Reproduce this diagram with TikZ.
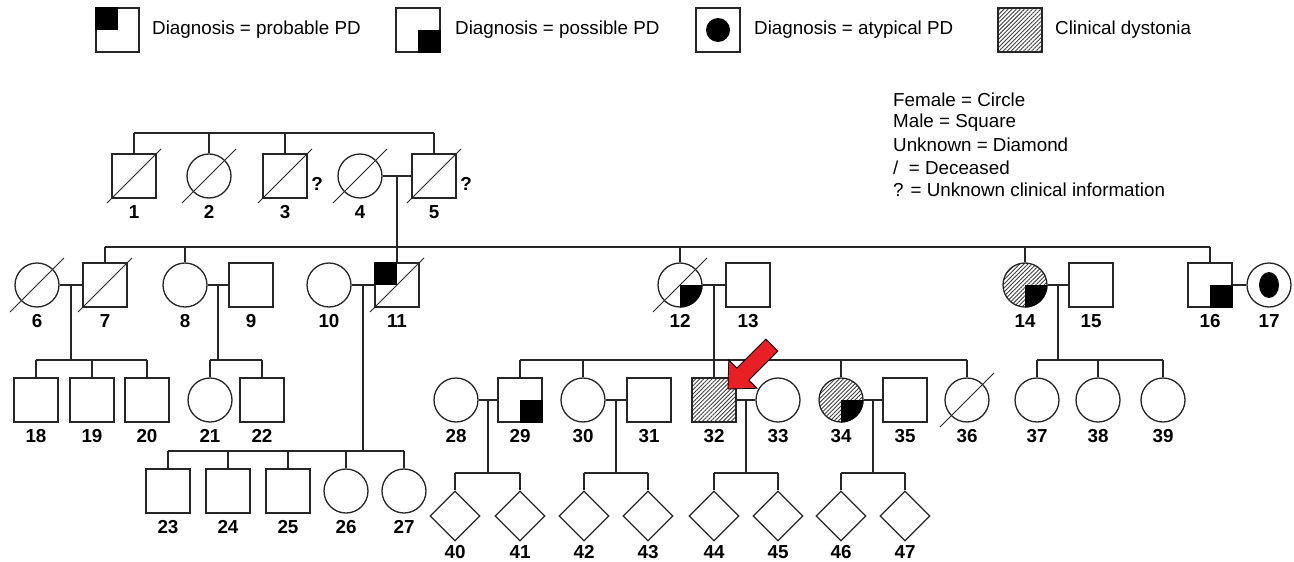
\documentclass[tikz,border=0pt]{standalone}
\usepackage{fontspec}
\setmainfont{Liberation Sans}
\usetikzlibrary{shapes.geometric,patterns.meta,calc}
\newcommand{\pdDead}[1]{\draw[slash] ($(#1.center)+(-27,27)$) -- ($(#1.center)+(27,-27)$);}
\newcommand{\pdSqBR}[1]{\fill[black] (#1.center) rectangle (#1.south east);}
\newcommand{\pdSqTL}[1]{\fill[black] (#1.north west) rectangle (#1.center);}
\newcommand{\pdCiBR}[1]{\begin{scope}\clip (#1.center) circle[radius=22.6];\fill[black] (#1.center) rectangle ++(24,24);\end{scope}}
\begin{document}
\begin{tikzpicture}[x=1pt,y=-1pt,
  ln/.style={draw=black!85, line width=1.3pt},
  male/.style={ln, rectangle, minimum size=44pt, inner sep=0pt},
  female/.style={ln, circle, minimum size=44pt, inner sep=0pt},
  unk/.style={ln, diamond, minimum width=50pt, minimum height=50pt, inner sep=0pt},
  hatch/.style={pattern={Lines[angle=45,distance=2.9pt,line width=0.9pt]}, pattern color=black!75},
  num/.style={font=\fontsize{18.8}{20}\selectfont\bfseries, inner sep=0pt},
  txt/.style={font=\fontsize{18.8}{20}\selectfont, inner sep=0pt, anchor=west},
  conn/.style={draw=black!85, line width=1.4pt},
  slash/.style={draw=black!85, line width=1pt},
]
\useasboundingbox[fill=white] (0,0) rectangle (1294,562);

% ---------- legend top ----------
\node[male, minimum width=43pt] (lg1) at (117.5,30) {};
\pdSqTL{lg1}
\node[txt] (lt1) at (152,30) {Diagnosis = probable PD};
\node[male] (lg2) at (418,30) {};
\pdSqBR{lg2}
\node[txt] (lt2) at (455,30) {Diagnosis = possible PD};
\node[male] (lg3) at (718,30) {};
\fill[black] (lg3.center) circle[radius=12];
\node[txt] (lt3) at (754,30) {Diagnosis = atypical PD};
\node[male, hatch] (lg4) at (1020,30) {};
\node[txt] (lt4) at (1055,30) {Clinical dystonia};

% ---------- legend right ----------
\node[txt] (r1) at (893,100) {Female = Circle};
\node[txt] (r2) at (893,122.5) {Male = Square};
\node[txt] (r3) at (893,145) {Unknown = Diamond};
\node[txt] (r4) at (893,167.5) {/\ \ = Deceased};
\node[txt] (r5) at (893,190) {? = Unknown clinical information};

% ---------- generation I ----------
\node[male] (n1) at (134,176) {};
\node[female] (n2) at (209,176) {};
\node[male] (n3) at (285,176) {};
\node[female] (n4) at (360,176) {};
\node[male] (n5) at (434,176) {};
\foreach \n in {n1,n2,n3,n4,n5}{\pdDead{\n}}
\node[num] (q3) at (317,184) {?};
\node[num] (q5) at (466,184) {?};

% ---------- generation II ----------
\node[female] (n6) at (37,285) {};
\node[male] (n7) at (105,285) {};
\node[female] (n8) at (185,285) {};
\node[male] (n9) at (251,285) {};
\node[female] (n10) at (329,285) {};
\node[male] (n11) at (397,285) {};
\node[female] (n12) at (680,285) {};
\node[male] (n13) at (748,285) {};
\node[female, hatch] (n14) at (1025,285) {};
\node[male] (n15) at (1091,285) {};
\node[male] (n16) at (1210,285) {};
\node[female] (n17) at (1269,285) {};
\pdSqTL{n11}
\pdCiBR{n12}
\pdCiBR{n14}
\pdSqBR{n16}
\fill[black] (n17.center) ellipse[x radius=10, y radius=13];
\foreach \n in {n6,n7,n11,n12}{\pdDead{\n}}

% ---------- generation III ----------
\node[male] (n18) at (36,400) {};
\node[male] (n19) at (92,400) {};
\node[male] (n20) at (147,400) {};
\node[female] (n21) at (210,400) {};
\node[male] (n22) at (262,400) {};
\node[female] (n28) at (456,400) {};
\node[male] (n29) at (520,400) {};
\node[female] (n30) at (583,400) {};
\node[male] (n31) at (649,400) {};
\node[male, hatch] (n32) at (714,400) {};
\node[female] (n33) at (778,400) {};
\node[female, hatch] (n34) at (841,400) {};
\node[male] (n35) at (905,400) {};
\node[female] (n36) at (967,400) {};
\node[female] (n37) at (1037,400) {};
\node[female] (n38) at (1098,400) {};
\node[female] (n39) at (1163,400) {};
\pdSqBR{n29}
\pdCiBR{n34}
\pdDead{n36}

\node[male] (n23) at (168,491) {};
\node[male] (n24) at (228,491) {};
\node[male] (n25) at (288,491) {};
\node[female] (n26) at (346,491) {};
\node[female] (n27) at (404,491) {};

% ---------- generation IV ----------
\foreach \i/\x in {40/455,41/520,42/584,43/648,44/714,45/778,46/841,47/905}{
  \node[unk] (n\i) at (\x,516) {};
  \node[num] (l\i) at (\x,552) {\i};
}

% ---------- labels ----------
\foreach \i/\x in {1/134,2/209,3/285,4/360,5/434}{\node[num] (l\i) at (\x,212) {\i};}
\foreach \i/\x in {6/37,7/105,8/185,9/251,10/329,11/397,12/680,13/748,14/1025,15/1091,16/1210,17/1269}{\node[num] (l\i) at (\x,321) {\i};}
\foreach \i/\x in {18/36,19/92,20/147,21/210,22/262,28/456,29/520,30/583,31/649,32/714,33/778,34/841,35/905,36/967,37/1037,38/1098,39/1163}{\node[num] (l\i) at (\x,436) {\i};}
\foreach \i/\x in {23/168,24/228,25/288,26/346,27/404}{\node[num] (l\i) at (\x,527) {\i};}

% ---------- level coordinates ----------
\coordinate (y133) at (0,133);
\coordinate (y247) at (0,247);
\coordinate (y360) at (0,360);
\coordinate (y451) at (0,451);
\coordinate (y473) at (0,473);

% ---------- connectors gen I ----------
\draw[conn] (n1.north |- y133) -- (n5.north |- y133);
\foreach \n in {n1,n2,n3,n5}{\draw[conn] (\n.north |- y133) -- (\n.north);}
\draw[conn] (n4.east) -- (n5.west);
\coordinate (m45) at ($(n4.east)!.5!(n5.west)$);
\draw[conn] (m45) -- (m45 |- n11.north);

% ---------- connectors gen II ----------
\draw[conn] (n7.north |- y247) -- (n16.north |- y247);
\foreach \n in {n7,n8,n12,n14,n16}{\draw[conn] (\n.north |- y247) -- (\n.north);}
\draw[conn] (n6.east) -- (n7.west);
\draw[conn] (n8.east) -- (n9.west);
\draw[conn] (n10.east) -- (n11.west);
\draw[conn] (n12.east) -- (n13.west);
\draw[conn] (n14.east) -- (n15.west);
\draw[conn] (n16.east) -- (n17.west);
\coordinate (m67) at ($(n6.east)!.5!(n7.west)$);
\coordinate (m89) at ($(n8.east)!.5!(n9.west)$);
\coordinate (m1011) at ($(n10.east)!.5!(n11.west)$);
\coordinate (m1213) at ($(n12.east)!.5!(n13.west)$);
\coordinate (m1415) at ($(n14.east)!.5!(n15.west)$);
\draw[conn] (m67) -- (m67 |- y360);
\draw[conn] (m89) -- (m89 |- y360);
\draw[conn] (m1011) -- (m1011 |- y451);
\draw[conn] (m1213) -- (m1213 |- n32.north);
\draw[conn] (m1415) -- (m1415 |- y360);

% ---------- sibships gen III ----------
\draw[conn] (n18.north |- y360) -- (n20.north |- y360);
\foreach \n in {n18,n19,n20}{\draw[conn] (\n.north |- y360) -- (\n.north);}
\draw[conn] (n21.north |- y360) -- (n22.north |- y360);
\foreach \n in {n21,n22}{\draw[conn] (\n.north |- y360) -- (\n.north);}
\draw[conn] (n29.north |- y360) -- (n36.north |- y360);
\foreach \n in {n29,n30,n34,n36}{\draw[conn] (\n.north |- y360) -- (\n.north);}
\draw[conn] (n37.north |- y360) -- (n39.north |- y360);
\foreach \n in {n37,n38,n39}{\draw[conn] (\n.north |- y360) -- (\n.north);}
\draw[conn] (n23.north |- y451) -- (n27.north |- y451);
\foreach \n in {n23,n24,n25,n26,n27}{\draw[conn] (\n.north |- y451) -- (\n.north);}

% ---------- marriages gen III ----------
\draw[conn] (n28.east) -- (n29.west);
\draw[conn] (n30.east) -- (n31.west);
\draw[conn] (n32.east) -- (n33.west);
\draw[conn] (n34.east) -- (n35.west);
\coordinate (m2829) at ($(n28.east)!.5!(n29.west)$);
\coordinate (m3031) at ($(n30.east)!.5!(n31.west)$);
\coordinate (m3233) at ($(n32.east)!.5!(n33.west)$);
\coordinate (m3435) at ($(n34.east)!.5!(n35.west)$);
\foreach \m/\a/\b in {m2829/n40/n41,m3031/n42/n43,m3233/n44/n45,m3435/n46/n47}{
  \draw[conn] (\m) -- (\m |- y473);
  \draw[conn] (\a.north |- y473) -- (\b.north |- y473);
  \draw[conn] (\a.north |- y473) -- (\a.north);
  \draw[conn] (\b.north |- y473) -- (\b.north);
}

% ---------- proband arrow ----------
\begin{scope}[shift={(728,389)}, rotate=225]
  \draw[fill={rgb,255:red,232;green,32;blue,38}, draw=black, line width=0.8pt, line join=miter]
    (0,0) -- (-21,-20) -- (-21,-8.5) -- (-62,-8.5) -- (-62,8.5) -- (-21,8.5) -- (-21,20) -- cycle;
\end{scope}
\end{tikzpicture}
\end{document}
